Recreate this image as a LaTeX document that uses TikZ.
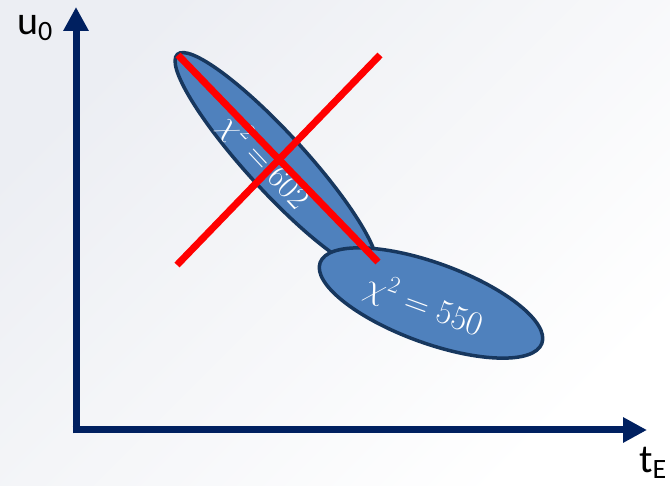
\RequirePackage{fix-cm}
\documentclass[tikz,border=0pt]{standalone}
\usepackage{fontspec}
\newfontfamily\axisfont{Carlito}
\usetikzlibrary{arrows.meta,shapes.geometric}
\definecolor{axisblue}{HTML}{002060}
\definecolor{fillblue}{HTML}{4F81BD}
\definecolor{edgeblue}{HTML}{17375E}
\definecolor{bgtop}{HTML}{ECEEF3}
\begin{document}
\begin{tikzpicture}[x=1pt,y=1pt,
  axisline/.style={draw=axisblue,line width=7pt,-{Triangle[width=24pt,length=24pt]}},
  blob/.style={ellipse,draw=edgeblue,fill=fillblue,line width=3.5pt,inner sep=0pt},
  cross/.style={draw=red,line width=7pt},
  chi/.style={text=white,inner sep=0pt},
  axlabel/.style={font=\axisfont\fontsize{40}{48}\selectfont,inner sep=0pt}]
\useasboundingbox (0,0) rectangle (670,486);
\shade[top color=bgtop,bottom color=white,shading angle=45] (0,0) rectangle (670,486);
% axes
\coordinate (O) at (76,56);
\coordinate (ytip) at (76,479);
\coordinate (xtip) at (647,56);
\draw[axisline] ([yshift=-3.5pt]O) -- (ytip);
\draw[axisline] ([xshift=-3.5pt]O) -- (xtip);
\node[axlabel] (ulab) at (35,458) {u\textsubscript{0}};
\node[axlabel] (tlab) at (653,23) {t\textsubscript{E}};
% ellipses
\node[blob,minimum width=292pt,minimum height=58pt,rotate=-47.5] (e1) at (276,324) {};
\node[chi,rotate=-47,font=\fontsize{32}{38}\selectfont] (c1) at (264,324) {$\chi^2=602$};
\node[blob,minimum width=236pt,minimum height=80pt,rotate=-20] (e2) at (431,183) {};
\node[chi,rotate=-20,font=\fontsize{34}{40}\selectfont] (c2) at (424,180) {$\chi^2=550$};
% red cross
\coordinate (r1a) at (178,431);
\coordinate (r1b) at (378,224);
\coordinate (r2a) at (380,431);
\coordinate (r2b) at (177,221);
\draw[cross] (r1a) -- (r1b);
\draw[cross] (r2a) -- (r2b);
\end{tikzpicture}
\end{document}
